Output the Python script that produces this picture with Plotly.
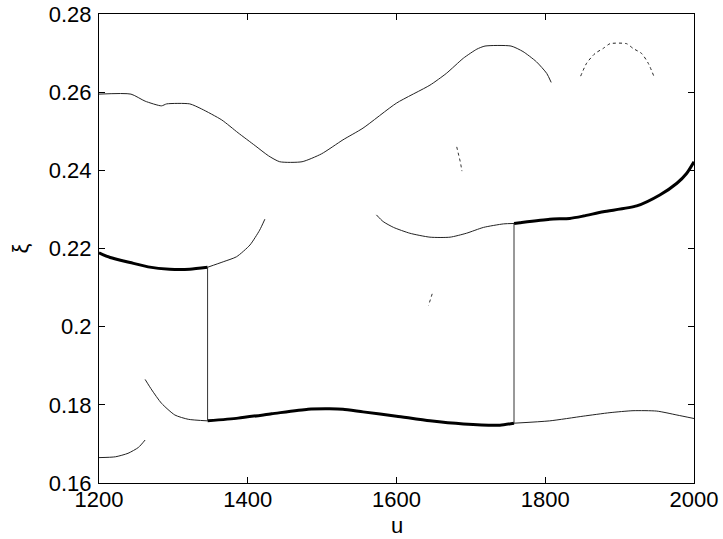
import plotly.graph_objects as go

# Upper thin curve
upper_u = [1200, 1243, 1262, 1284, 1291, 1322, 1338, 1365, 1387, 1410, 1428, 1443, 1473, 1499, 1528,
           1555, 1600, 1645, 1667, 1690, 1708, 1719, 1754, 1770, 1788, 1802, 1808]
upper_xi = [0.2595, 0.2595, 0.2577, 0.2565, 0.2570, 0.2570, 0.2557, 0.2529, 0.2496, 0.2463, 0.2437, 0.2422, 0.2422, 0.2442, 0.2478,
            0.2508, 0.2572, 0.2618, 0.2648, 0.2687, 0.2710, 0.2718, 0.2718, 0.2704, 0.2678, 0.2648, 0.2625]

# Upper-right arc
arc_u = [1847.6, 1855.6, 1866.9, 1878, 1887, 1909.5, 1918, 1929.6, 1938.5, 1946]
arc_xi = [0.2641, 0.2674, 0.2699, 0.2712, 0.2724, 0.2724, 0.2712, 0.2699, 0.2674, 0.2641]

# Thick left branch (upper)
thickL_u = [1200, 1215, 1242, 1266, 1295, 1322, 1346]
thickL_xi = [0.2189, 0.2177, 0.2164, 0.2153, 0.2147, 0.2147, 0.2152]

# Thin continuation of left branch
thinL_u = [1346, 1367, 1385, 1403, 1416, 1423]
thinL_xi = [0.2152, 0.2166, 0.2179, 0.2209, 0.2247, 0.2275]

# Middle thin curve
mid_u = [1573, 1582, 1596, 1618, 1645, 1672, 1694, 1717, 1744, 1758]
mid_xi = [0.2286, 0.2269, 0.2254, 0.2239, 0.2229, 0.2229, 0.2239, 0.2254, 0.2263, 0.2264]

# Thick right branch (upper)
thickR_u = [1758, 1766, 1806, 1833, 1851, 1878, 1923, 1954, 1977, 1990, 2000]
thickR_xi = [0.2264, 0.2266, 0.2275, 0.2277, 0.2283, 0.2294, 0.2309, 0.2337, 0.2367, 0.2392, 0.2422]

# Lower thin descending curve
desc_u = [1262, 1271, 1284, 1302, 1320, 1346]
desc_xi = [0.1865, 0.1838, 0.1804, 0.1774, 0.1763, 0.1759]

# Thick lower branch
thickLow_u = [1346, 1387, 1432, 1481, 1510, 1528, 1555, 1600, 1645, 1690, 1739, 1758]
thickLow_xi = [0.1759, 0.1766, 0.1777, 0.1789, 0.1790, 0.1789, 0.1782, 0.1771, 0.1759, 0.1751, 0.1748, 0.1753]

# Thin lower-right curve
lowR_u = [1758, 1806, 1851, 1887, 1918, 1950, 1977, 2000]
lowR_xi = [0.1753, 0.1759, 0.1771, 0.1780, 0.1785, 0.1784, 0.1774, 0.1765]

# Bottom-left short curve
bl_u = [1200, 1222, 1239, 1253, 1262]
bl_xi = [0.1665, 0.1667, 0.1676, 0.1691, 0.1710]

# Small dotted fragments
frag1_u = [1681, 1684, 1686, 1688]
frag1_xi = [0.2460, 0.2440, 0.2420, 0.2398]
frag2_u = [1648, 1646, 1643]
frag2_xi = [0.2084, 0.2070, 0.2054]

# Vertical jumps
jump1_u = [1346, 1346]
jump1_xi = [0.2152, 0.1759]
jump2_u = [1758, 1758]
jump2_xi = [0.2264, 0.1753]

x_ticks = [1200, 1400, 1600, 1800, 2000]
y_ticks = [0.16, 0.18, 0.20, 0.22, 0.24, 0.26, 0.28]
y_ticktext = ["0.16", "0.18", "0.2", "0.22", "0.24", "0.26", "0.28"]

FONT = "Liberation Sans, Arial, sans-serif"

fig = go.Figure()

thin = dict(color="#222222", width=1, shape="spline", smoothing=0.6)
thick = dict(color="black", width=3, shape="spline", smoothing=0.6)

def add(u, xi, line, mode="lines"):
    fig.add_trace(go.Scatter(x=u, y=xi, mode=mode, line=line, showlegend=False, hoverinfo="skip"))

add(upper_u, upper_xi, thin)
add(arc_u, arc_xi, dict(color="#222222", width=1, dash="dot", shape="spline", smoothing=0.6))
add(thickL_u, thickL_xi, thick)
add(thinL_u, thinL_xi, thin)
add(mid_u, mid_xi, thin)
add(thickR_u, thickR_xi, thick)
add(desc_u, desc_xi, thin)
add(thickLow_u, thickLow_xi, thick)
add(lowR_u, lowR_xi, thin)
add(bl_u, bl_xi, thin)
add(frag1_u, frag1_xi, dict(color="#333333", width=1, dash="dot"))
add(frag2_u, frag2_xi, dict(color="#333333", width=1, dash="dot"))
add(jump1_u, jump1_xi, dict(color="#333333", width=1))
add(jump2_u, jump2_xi, dict(color="#333333", width=1))

axis_common = dict(
    showgrid=False, zeroline=False, showline=True, linecolor="black", linewidth=1,
    mirror="ticks", ticks="inside", ticklen=6, tickcolor="black", tickwidth=1,
    automargin=False, ticklabeloverflow="allow",
    tickfont=dict(family=FONT, size=22, color="black"),
)

fig.update_layout(
    width=723, height=539,
    margin=dict(l=99, r=29, t=14, b=56, autoexpand=False),
    paper_bgcolor="white", plot_bgcolor="white",
    xaxis=dict(range=[1200, 2000], tickvals=x_ticks, ticktext=[str(v) for v in x_ticks],
               ticklabelstandoff=-3, **axis_common),
    yaxis=dict(range=[0.16, 0.28], tickvals=y_ticks, ticktext=y_ticktext,
               ticklabelstandoff=2, **axis_common),
    annotations=[
        dict(text="u", xref="paper", yref="paper", x=0.5, y=0, yshift=-42,
             xanchor="center", yanchor="middle", showarrow=False,
             font=dict(family=FONT, size=22, color="black")),
        dict(text="ξ", xref="paper", yref="paper", x=0, y=0.5, xshift=-79,
             xanchor="center", yanchor="middle", showarrow=False, textangle=-90,
             font=dict(family=FONT, size=22, color="black")),
    ],
)

# remove the default 8px page margin so the figure fills the window exactly
fig.write_html("out.html", config={"displayModeBar": False},
               post_script="document.body.style.margin='0';document.body.style.overflow='hidden';")
